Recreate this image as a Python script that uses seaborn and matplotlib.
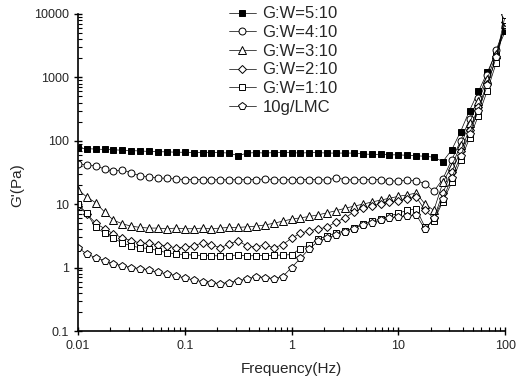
import numpy as np
import pandas as pd
import matplotlib
matplotlib.use("Agg")
import matplotlib.pyplot as plt
import seaborn as sns
from matplotlib.ticker import LogLocator, FixedLocator, FixedFormatter, NullFormatter

# Frequency grid (Hz), 12 points per decade from 0.01 to 100
freq = [0.01, 0.0121, 0.0147, 0.0178, 0.0215, 0.0261, 0.0316, 0.0383, 0.0464, 0.0562,
        0.0681, 0.0825, 0.1, 0.121, 0.147, 0.178, 0.215, 0.261, 0.316, 0.383,
        0.464, 0.562, 0.681, 0.825, 1.0, 1.21, 1.47, 1.78, 2.15, 2.61,
        3.16, 3.83, 4.64, 5.62, 6.81, 8.25, 10.0, 12.1, 14.7, 17.8,
        21.5, 26.1, 31.6, 38.3, 46.4, 56.2, 68.1, 82.5, 100.0]

gw_5_10 = [76, 75, 74, 73, 72, 71, 70, 69, 68, 67, 67, 66, 66, 65, 65, 65, 65, 64, 58, 64,
           65, 64, 65, 65, 65, 64, 65, 65, 64, 64, 64, 64, 62, 61, 61, 60, 60, 59, 58, 57,
           55, 47, 72, 140, 300, 600, 1200, 2500, 5300]
gw_4_10 = [43, 42, 40, 36, 33, 35, 31, 28, 27, 26, 25.5, 25, 24.5, 24.5, 24.5, 24, 24.5, 24, 24.5, 24.5,
           24.5, 25, 24.5, 24, 24.5, 24.5, 24.5, 24.5, 24, 26, 24.5, 24, 24.5, 24.5, 24.5, 23.5, 23, 24, 23.5, 21,
           16, 25, 50, 100, 220, 480, 1100, 2700, 6500]
gw_3_10 = [17, 13, 10.5, 7.5, 5.6, 4.9, 4.5, 4.3, 4.2, 4.2, 4.1, 4.2, 4.1, 4.1, 4.2, 4.1, 4.2, 4.3, 4.3, 4.4,
           4.5, 4.7, 5.0, 5.4, 5.8, 6.1, 6.4, 6.8, 7.3, 7.9, 8.6, 9.3, 10, 10.8, 11.6, 12.4, 13.3, 14, 15, 10,
           8, 22, 40, 85, 190, 420, 950, 2300, 7000]
gw_2_10 = [9.5, 7, 5.0, 4.1, 3.4, 2.95, 2.65, 2.45, 2.4, 2.3, 2.2, 2.05, 2.1, 2.2, 2.46, 2.3, 2.05, 2.37, 2.64, 2.2,
           2.1, 2.3, 2.05, 2.3, 2.9, 3.5, 3.8, 4.1, 4.3, 5.3, 6.0, 7.6, 8.6, 9.3, 10.2, 11, 11.2, 12.2, 13, 8,
           6, 15, 32, 70, 150, 340, 800, 2000, 7500]
gw_1_10 = [10, 7.2, 4.3, 3.5, 2.9, 2.45, 2.2, 2.05, 2.0, 1.85, 1.72, 1.65, 1.6, 1.58, 1.55, 1.55, 1.52, 1.55, 1.58, 1.52,
           1.55, 1.55, 1.56, 1.58, 1.6, 2.0, 2.3, 2.8, 3.2, 3.5, 3.8, 4.2, 4.9, 5.4, 5.8, 6.5, 7.2, 8.0, 8.5, 4.3,
           5.5, 11, 22, 50, 110, 250, 620, 1700, 8000]
lmc_10g = [2.05, 1.65, 1.43, 1.29, 1.15, 1.07, 1.0, 0.96, 0.9, 0.84, 0.8, 0.75, 0.68, 0.64, 0.6, 0.57, 0.56, 0.58, 0.62, 0.66,
           0.72, 0.69, 0.66, 0.72, 1.0, 1.4, 2.0, 2.6, 2.9, 3.3, 3.7, 4.1, 4.7, 5.0, 5.6, 6.0, 6.3, 6.5, 6.8, 4.0,
           6, 12, 26, 58, 130, 300, 750, 2100, 9500]

labels = ["G:W=5:10", "G:W=4:10", "G:W=3:10", "G:W=2:10", "G:W=1:10", "10g/LMC"]
series = [gw_5_10, gw_4_10, gw_3_10, gw_2_10, gw_1_10, lmc_10g]

x_ticks = [0.01, 0.1, 1, 10, 100]
x_ticklabels = ["0.01", "0.1", "1", "10", "100"]
y_ticks = [0.1, 1, 10, 100, 1000, 10000]
y_ticklabels = ["0.1", "1", "10", "100", "1000", "10000"]

sns.set_style("white")
plt.rcParams['font.family'] = ['Liberation Sans', 'DejaVu Sans']

fig = plt.figure(figsize=(5.16, 3.77), dpi=100)
ax = fig.add_axes([0.151, 0.122, 0.828, 0.841])

styles = [
    dict(marker="s", mfc="black", ms=4.5),
    dict(marker="o", mfc="white", ms=5.0),
    dict(marker="^", mfc="white", ms=5.5),
    dict(marker="D", mfc="white", ms=4.3),
    dict(marker="s", mfc="white", ms=4.5),
    dict(marker="p", mfc="white", ms=5.5),
]

for lab, vals, st in zip(labels, series, styles):
    df = pd.DataFrame({"f": freq, "g": vals})
    sns.lineplot(data=df, x="f", y="g", ax=ax, color="black", linewidth=0.5,
                 marker=st["marker"], markersize=st["ms"], markerfacecolor=st["mfc"],
                 markeredgecolor="black", markeredgewidth=0.7, label=lab)

ax.set_xscale("log")
ax.set_yscale("log")
ax.set_xlim(0.01, 100)
ax.set_ylim(0.1, 10000)

ax.xaxis.set_major_locator(FixedLocator(x_ticks))
ax.xaxis.set_major_formatter(FixedFormatter(x_ticklabels))
ax.yaxis.set_major_locator(FixedLocator(y_ticks))
ax.yaxis.set_major_formatter(FixedFormatter(y_ticklabels))
ax.xaxis.set_minor_locator(LogLocator(base=10, subs=np.arange(2, 10)))
ax.yaxis.set_minor_locator(LogLocator(base=10, subs=np.arange(2, 10)))
ax.xaxis.set_minor_formatter(NullFormatter())
ax.yaxis.set_minor_formatter(NullFormatter())

ax.tick_params(which="major", direction="inout", length=6, width=1.0, labelsize=9, color="black")
ax.tick_params(which="minor", direction="in", length=3, width=0.8, color="black")
ax.tick_params(axis="both", which="both", bottom=True, left=True, top=False, right=False)

for s in ["top", "right"]:
    ax.spines[s].set_visible(False)
for s in ["left", "bottom"]:
    ax.spines[s].set_color("black")
    ax.spines[s].set_linewidth(1.2)

ax.set_xlabel("Frequency(Hz)", fontsize=11, labelpad=7)
ax.set_ylabel("G'(Pa)", fontsize=11)
ax.yaxis.set_label_coords(-0.125, 0.46)

ax.legend(loc="upper left", bbox_to_anchor=(0.338, 1.045), frameon=False, fontsize=12,
          handlelength=1.6, handletextpad=0.4, labelspacing=0.22, borderaxespad=0)

fig.savefig("out.png", dpi=100)
